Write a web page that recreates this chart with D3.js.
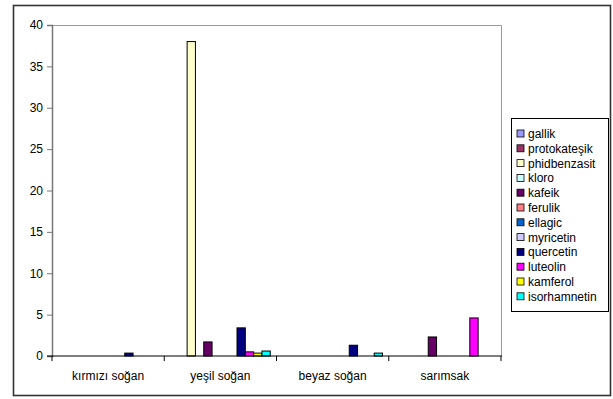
<!DOCTYPE html>
<html>
<head>
<meta charset="utf-8">
<script src="https://cdn.jsdelivr.net/npm/d3@7"></script>
<style>
  body { margin: 0; background: #fff; }
  svg { display: block; font-family: "Liberation Sans", Arial, sans-serif; }
</style>
</head>
<body>
<svg id="chart" width="613" height="399"></svg>
<script>
// Onion / garlic samples and the phenolic compounds measured in each
const categories = ["kırmızı soğan", "yeşil soğan", "beyaz soğan", "sarımsak"];
const seriesNames = ["gallik", "protokateşik", "phidbenzasit", "kloro", "kafeik", "ferulik",
  "ellagic", "myricetin", "quercetin", "luteolin", "kamferol", "isorhamnetin"];
const seriesColors = ["#9999FF", "#993366", "#FFFFCC", "#CCFFFF", "#660066", "#FF8080",
  "#0066CC", "#CCCCFF", "#000080", "#FF00FF", "#FFFF00", "#00FFFF"];
// One row per compound, one value per sample (same order as categories)
const gallik       = [0, 0, 0, 0];
const protokatesik = [0, 0, 0, 0];
const phidbenzasit = [0, 38, 0, 0];
const kloro        = [0, 0, 0, 0];
const kafeik       = [0, 1.7, 0, 2.3];
const ferulik      = [0, 0, 0, 0];
const ellagic      = [0, 0, 0, 0];
const myricetin    = [0, 0, 0, 0];
const quercetin    = [0.35, 3.4, 1.3, 0];
const luteolin     = [0, 0.5, 0, 4.6];
const kamferol     = [0, 0.35, 0, 0];
const isorhamnetin = [0, 0.6, 0.35, 0];
const seriesValues = [gallik, protokatesik, phidbenzasit, kloro, kafeik, ferulik,
  ellagic, myricetin, quercetin, luteolin, kamferol, isorhamnetin];
const yTicks = [0, 5, 10, 15, 20, 25, 30, 35, 40];

const svg = d3.select("#chart");

// outer chart frame
svg.append("rect")
  .attr("x", 13.5).attr("y", 5.5).attr("width", 597).attr("height", 390)
  .attr("fill", "#fff").attr("stroke", "#333").attr("stroke-width", 1.6);

const plot = { left: 52, right: 501, top: 25, bottom: 356 };

const x0 = d3.scaleBand().domain(categories).range([plot.left, plot.right]).paddingInner(0).paddingOuter(0);
// 12 bars per group with a 150% gap between groups
const x1 = d3.scaleBand().domain(seriesNames).range([0, x0.bandwidth()])
  .paddingInner(0).paddingOuter(0.75);
const y = d3.scaleLinear().domain([0, 40]).range([plot.bottom, plot.top]);

// plot area border (top and right)
svg.append("path")
  .attr("d", `M${plot.left},${plot.top + 0.5}H${plot.right + 0.5}V${plot.bottom}`)
  .attr("fill", "none").attr("stroke", "#9a9a9a").attr("stroke-width", 1);

// bars
const groups = svg.append("g").selectAll("g")
  .data(seriesNames)
  .join("g")
  .attr("fill", (d, i) => seriesColors[i]);

groups.selectAll("rect")
  .data((s, i) => categories.map((c, j) => ({ c, s, v: seriesValues[i][j] })).filter(d => d.v > 0))
  .join("rect")
  .attr("x", d => x0(d.c) + x1(d.s))
  .attr("y", d => y(d.v))
  .attr("width", x1.bandwidth())
  .attr("height", d => y(0) - y(d.v))
  .attr("stroke", "#000").attr("stroke-width", 1);

// y axis
const yAxis = svg.append("g")
  .attr("transform", `translate(${plot.left},0)`)
  .call(d3.axisLeft(y).tickValues(yTicks).tickSize(5).tickPadding(4));
yAxis.select(".domain").attr("stroke", "#777").attr("stroke-width", 1.5);
yAxis.selectAll(".tick line").attr("stroke", "#777");
yAxis.selectAll("text").attr("font-size", 12).attr("fill", "#000")
  .attr("font-family", "'Liberation Sans', Arial, sans-serif");

// x axis with ticks at category boundaries
const xAxis = svg.append("g")
  .attr("transform", `translate(0,${plot.bottom})`);
xAxis.append("line")
  .attr("x1", plot.left - 5).attr("x2", plot.right + 1)
  .attr("stroke", "#000").attr("stroke-width", 1.2);
xAxis.selectAll(".bt")
  .data(categories.concat([null]))
  .join("line")
  .attr("x1", (d, i) => i < categories.length ? x0(d) : plot.right)
  .attr("x2", (d, i) => i < categories.length ? x0(d) : plot.right)
  .attr("y1", 0).attr("y2", 5)
  .attr("stroke", "#000");
xAxis.selectAll(".cl")
  .data(categories)
  .join("text")
  .attr("x", d => x0(d) + x0.bandwidth() / 2)
  .attr("y", 24)
  .attr("text-anchor", "middle")
  .attr("font-size", 12)
  .text(d => d);

// legend
const lg = svg.append("g").attr("transform", "translate(511,118)");
lg.append("rect")
  .attr("x", 0.5).attr("y", 0.5).attr("width", 97).attr("height", 193)
  .attr("fill", "#fff").attr("stroke", "#000").attr("stroke-width", 1);
const items = lg.selectAll("g.item")
  .data(seriesNames)
  .join("g")
  .attr("transform", (d, i) => `translate(6,${16 + i * 14.8})`);
items.append("rect")
  .attr("x", 0).attr("y", -4).attr("width", 7).attr("height", 7)
  .attr("fill", (d, i) => seriesColors[i]).attr("stroke", "#000").attr("stroke-width", 0.8);
items.append("text")
  .attr("x", 11).attr("y", 4)
  .attr("font-size", 12)
  .text(d => d);
</script>
</body>
</html>
